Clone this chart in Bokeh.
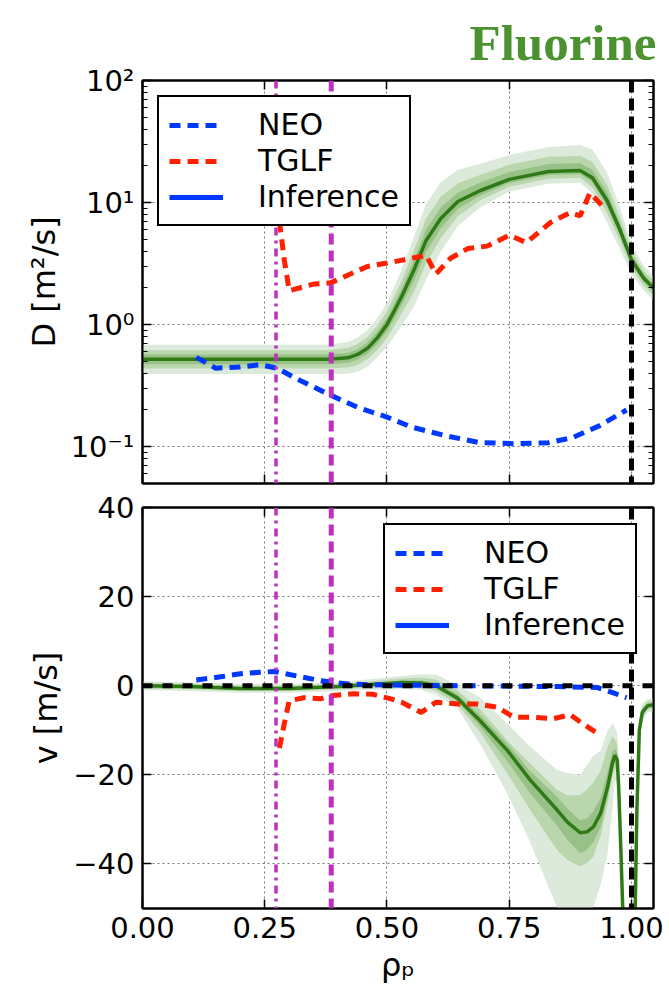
from bokeh.plotting import figure
from bokeh.models import (Range1d, FixedTicker, LinearAxis, LogAxis, Span, Legend, LegendItem,
                          NumeralTickFormatter)
from bokeh.layouts import column
from bokeh.embed import file_html
from bokeh.resources import INLINE

# ---------------- data ----------------
title_text = "Fluorine"
series_names = ["NEO", "TGLF", "Inference"]

# top panel: D [m^2/s]
rho_D_inf = [0.0, 0.1, 0.2, 0.3, 0.38, 0.42, 0.44, 0.46, 0.48, 0.5, 0.515, 0.53, 0.555, 0.58,
             0.61, 0.645, 0.69, 0.75, 0.83, 0.895, 0.92, 0.95, 0.977, 1.0, 1.025, 1.045]
D_inf = [0.52, 0.52, 0.52, 0.52, 0.52, 0.535, 0.57, 0.64, 0.78, 1.0, 1.3, 1.7, 2.8, 4.9,
         7.4, 10.2, 12.5, 15.5, 18.0, 18.3, 16.0, 10.4, 5.9, 3.4, 2.4, 2.0]
# band half-widths in decades (outer / middle / inner, up and down)
D_out_up = [0.12, 0.12, 0.12, 0.12, 0.12, 0.13, 0.14, 0.15, 0.16, 0.18, 0.20, 0.22, 0.27, 0.30,
            0.30, 0.26, 0.22, 0.20, 0.20, 0.21, 0.23, 0.23, 0.18, 0.13, 0.10, 0.10]
D_out_dn = [0.12, 0.12, 0.12, 0.12, 0.12, 0.13, 0.14, 0.15, 0.16, 0.18, 0.21, 0.24, 0.30, 0.32,
            0.27, 0.20, 0.14, 0.10, 0.10, 0.10, 0.13, 0.18, 0.16, 0.12, 0.10, 0.10]
D_mid_up = [0.075, 0.075, 0.075, 0.075, 0.075, 0.08, 0.085, 0.09, 0.10, 0.11, 0.12, 0.13, 0.16,
            0.18, 0.18, 0.15, 0.13, 0.12, 0.12, 0.12, 0.13, 0.13, 0.10, 0.08, 0.06, 0.06]
D_mid_dn = [0.075, 0.075, 0.075, 0.075, 0.075, 0.08, 0.085, 0.09, 0.10, 0.11, 0.125, 0.14, 0.18,
            0.19, 0.16, 0.12, 0.08, 0.06, 0.06, 0.06, 0.08, 0.10, 0.09, 0.07, 0.06, 0.06]
D_in_up = [0.04, 0.04, 0.04, 0.04, 0.04, 0.04, 0.042, 0.045, 0.05, 0.055, 0.06, 0.065, 0.08,
           0.09, 0.09, 0.075, 0.065, 0.06, 0.06, 0.06, 0.065, 0.065, 0.05, 0.04, 0.03, 0.03]
D_in_dn = [0.04, 0.04, 0.04, 0.04, 0.04, 0.04, 0.042, 0.045, 0.05, 0.055, 0.062, 0.07, 0.09,
           0.095, 0.08, 0.06, 0.04, 0.03, 0.03, 0.03, 0.04, 0.05, 0.045, 0.035, 0.03, 0.03]

rho_D_neo = [0.11, 0.15, 0.2, 0.24, 0.275, 0.315, 0.38, 0.44, 0.5, 0.55, 0.62, 0.69, 0.76,
             0.83, 0.88, 0.935, 0.99]
D_neo = [0.54, 0.44, 0.45, 0.47, 0.44, 0.36, 0.27, 0.21, 0.175, 0.145, 0.123, 0.108, 0.106,
         0.108, 0.119, 0.149, 0.2]

rho_D_tglf = [0.28, 0.29, 0.30, 0.35, 0.385, 0.425, 0.46, 0.50, 0.535, 0.58, 0.60, 0.63, 0.665,
              0.705, 0.75, 0.785, 0.835, 0.875, 0.895, 0.915, 0.945]
D_tglf = [7.0, 3.4, 1.9, 2.15, 2.2, 2.6, 3.0, 3.2, 3.4, 3.7, 2.6, 3.5, 4.2,
          4.4, 5.4, 4.7, 6.9, 8.3, 7.8, 12.0, 9.0]

# bottom panel: v [m/s]
rho_v_inf = [0.0, 0.1, 0.2, 0.3, 0.4, 0.47, 0.53, 0.57, 0.6, 0.643, 0.69, 0.746, 0.793, 0.848,
             0.869, 0.895, 0.909, 0.922, 0.937, 0.951, 0.961, 0.966, 0.971, 0.974, 0.978, 0.985,
             0.995, 1.006, 1.011, 1.016, 1.022, 1.033, 1.045]
v_inf = [0.0, -0.2, -0.6, -0.6, -0.2, 0.3, 0.7, 0.6, 0.0, -2.7, -7.8, -14.5, -21.2, -27.9,
         -30.6, -33.0, -32.8, -31.7, -28.6, -22.8, -17.4, -15.6, -16.7, -23.4, -36.0, -60.0,
         -90.0, -60.0, -28.0, -10.0, -6.0, -4.5, -4.3]
v_out_up = [1, 1, 1, 1, 1, 1.2, 1.5, 2, 2.5, 3, 5.2, 6, 7.5, 9, 11, 13, 15, 16, 14, 12.7, 9, 6.3,
            6, 6, 5, 4, 4, 4, 3, 2.5, 2, 1.5, 1.5]
v_out_dn = [1, 1, 1, 1, 1, 1.2, 1.5, 1.5, 2, 2.2, 5.2, 9.7, 14, 22, 24, 25, 22, 18, 16, 15, 10, 5.6,
            5, 5, 5, 4, 4, 4, 3, 2.5, 2, 1.5, 1.5]
v_mid_up = [0.6, 0.6, 0.6, 0.6, 0.6, 0.7, 0.9, 1.2, 1.4, 1.7, 2.6, 2.2, 3.7, 4.5, 6, 8.4, 9.5, 10,
            9.5, 9, 6, 3.5, 3.5, 3.5, 3, 2.5, 2.5, 2.5, 2, 1.5, 1.2, 0.9, 0.9]
v_mid_dn = [0.6, 0.6, 0.6, 0.6, 0.6, 0.7, 0.9, 0.9, 1.2, 1.4, 2.6, 5.2, 6.7, 9, 8.5, 7.6, 7, 6.7,
            5, 3.7, 3, 3, 3, 3, 3, 2.5, 2.5, 2.5, 2, 1.5, 1.2, 0.9, 0.9]
v_in_up = [0.3, 0.3, 0.3, 0.3, 0.3, 0.35, 0.45, 0.6, 0.7, 0.85, 1.3, 1.5, 2, 3, 3, 2.8, 3, 3.5,
           3.5, 3.5, 2.5, 1.5, 1.5, 1.5, 1.5, 1.2, 1.2, 1.2, 1, 0.8, 0.6, 0.5, 0.5]
v_in_dn = [0.3, 0.3, 0.3, 0.3, 0.3, 0.35, 0.45, 0.45, 0.6, 0.7, 1.3, 2.5, 3, 3.5, 4, 4.6, 4, 3.5,
           3, 2, 1.5, 1.5, 1.5, 1.5, 1.5, 1.2, 1.2, 1.2, 1, 0.8, 0.6, 0.5, 0.5]

rho_v_neo = [0.11, 0.16, 0.2, 0.24, 0.27, 0.315, 0.365, 0.42, 0.47, 0.55, 0.65, 0.75, 0.85,
             0.93, 0.96, 0.99]
v_neo = [1.3, 2.0, 2.7, 3.0, 3.2, 2.2, 1.1, 0.4, 0.2, 0.1, 0.0, -0.1, -0.2, -0.4, -1.5, -2.7]

rho_v_tglf = [0.28, 0.29, 0.30, 0.33, 0.365, 0.39, 0.43, 0.47, 0.51, 0.53, 0.57, 0.60, 0.645,
              0.685, 0.725, 0.76, 0.80, 0.84, 0.875, 0.90, 0.935]
v_tglf = [-14.0, -8.5, -3.4, -2.7, -2.9, -2.2, -1.8, -1.9, -3.0, -3.7, -6.0, -3.7, -4.1,
          -4.1, -4.8, -7.1, -7.1, -7.4, -6.5, -8.5, -11.0]

# vertical markers (rho_p)
rho_dashdot = 0.273
rho_dashed = 0.386
rho_lcfs = 1.0

x_ticks = [0.0, 0.25, 0.5, 0.75, 1.0]
D_ticks = [0.1, 1, 10, 100]
D_tick_labels = ["10⁻¹", "10⁰", "10¹", "10²"]
D_minor = [0.06, 0.07, 0.08, 0.09, 0.2, 0.3, 0.4, 0.5, 0.6, 0.7, 0.8, 0.9,
           2, 3, 4, 5, 6, 7, 8, 9, 20, 30, 40, 50, 60, 70, 80, 90]
v_ticks = [-40, -20, 0, 20, 40]
v_tick_labels = ["−40", "−20", "0", "20", "40"]

# ---------------- styles ----------------
FONT = "DejaVu Sans"
TICK_FS = "29px"
C_NEO = "#0038ff"
C_TGLF = "#ff2000"
C_INF = "#2e7b16"
C_MAG = "#bf30bf"
BAND_COLORS = ["#dceadb", "#bad6ad", "#98c187"]
W = 669
LEFT, RIGHT = 142, 16
X_MAX = 1.045


def style_axis(ax):
    ax.axis_line_color = "black"
    ax.axis_line_width = 2
    ax.major_tick_in = 9
    ax.major_tick_out = 0
    ax.minor_tick_in = 5
    ax.minor_tick_out = 0
    ax.major_tick_line_width = 1.5
    ax.major_tick_line_color = "black"
    ax.minor_tick_line_color = "black"
    ax.major_label_text_font = FONT
    ax.major_label_text_font_size = TICK_FS
    ax.major_label_text_color = "black"
    ax.major_label_standoff = 8
    ax.axis_label_text_font = FONT
    ax.axis_label_text_font_size = "32px"
    ax.axis_label_text_font_style = "normal"
    ax.axis_label_text_color = "black"


def hide_labels(ax):
    ax.major_label_text_font_size = "1px"
    ax.major_label_text_color = None
    ax.major_label_standoff = 0


def style(p, yticks, yminor, ylabels, show_x_labels, log):
    p.outline_line_color = "black"
    p.outline_line_width = 2
    p.xgrid.ticker = FixedTicker(ticks=x_ticks)
    p.ygrid.ticker = FixedTicker(ticks=yticks)
    for g in (p.xgrid[0], p.ygrid[0]):
        g.grid_line_color = "#777777"
        g.grid_line_dash = "2 3"
        g.grid_line_width = 1
    bx = p.below[0]
    ly = p.left[0]
    bx.ticker = FixedTicker(ticks=x_ticks)
    ly.ticker = FixedTicker(ticks=yticks, minor_ticks=yminor)
    ly.major_label_overrides = {t: l for t, l in zip(yticks, ylabels)}
    extra_x = LinearAxis(ticker=FixedTicker(ticks=x_ticks))
    extra_y = (LogAxis if log else LinearAxis)(ticker=FixedTicker(ticks=yticks, minor_ticks=yminor))
    p.add_layout(extra_x, "above")
    p.add_layout(extra_y, "right")
    for ax in (bx, ly, extra_x, extra_y):
        style_axis(ax)
    hide_labels(extra_x)
    hide_labels(extra_y)
    if not show_x_labels:
        hide_labels(bx)
    else:
        bx.formatter = NumeralTickFormatter(format="0.00")
    return bx, ly


def bands(p, x, c, ups, dns, log):
    for col, up, dn in zip(BAND_COLORS, ups, dns):
        if log:
            lo = [ci * 10 ** (-d) for ci, d in zip(c, dn)]
            hi = [ci * 10 ** (u) for ci, u in zip(c, up)]
        else:
            lo = [ci - d for ci, d in zip(c, dn)]
            hi = [ci + u for ci, u in zip(c, up)]
        p.varea(x=x, y1=lo, y2=hi, fill_color=col, fill_alpha=1.0)


def add_legend(p, r_neo, r_tglf, r_inf_proxy, loc, margin):
    legend = Legend(items=[LegendItem(label=series_names[0], renderers=[r_neo]),
                           LegendItem(label=series_names[1], renderers=[r_tglf]),
                           LegendItem(label=series_names[2], renderers=[r_inf_proxy])],
                    location=loc, margin=margin, padding=10, spacing=1,
                    glyph_width=54, glyph_height=34, label_height=34, label_standoff=35,
                    label_text_font=FONT, label_text_font_size="30px", label_text_color="black",
                    border_line_color="black", border_line_width=2, border_line_alpha=1.0,
                    background_fill_color="white", background_fill_alpha=1.0)
    p.add_layout(legend, "center")


def vlines(p):
    p.add_layout(Span(location=rho_dashdot, dimension="height", line_color=C_MAG,
                      line_width=3.5, line_dash="8 5 3 5"))
    p.add_layout(Span(location=rho_dashed, dimension="height", line_color=C_MAG,
                      line_width=5, line_dash="11 6"))
    p.add_layout(Span(location=rho_lcfs, dimension="height", line_color="black",
                      line_width=5, line_dash="12 6"))


# ---------------- top panel ----------------
p1 = figure(width=W, height=486, y_axis_type="log", output_backend="svg", toolbar_location=None,
            x_range=Range1d(0, X_MAX), y_range=Range1d(0.05, 100),
            min_border_left=LEFT, min_border_right=RIGHT, min_border_top=80, min_border_bottom=3,
            title=title_text)
p1.title.align = "right"
p1.title.vertical_align = "top"
p1.title.text_font = "Liberation Serif"
p1.title.text_font_size = "51px"
p1.title.text_font_style = "bold"
p1.title.text_color = "#4b9231"
p1.title.standoff = 16
p1.title.offset = -3
bx1, ly1 = style(p1, D_ticks, D_minor, D_tick_labels, False, True)
ly1.axis_label = "D [m²/s]"
bands(p1, rho_D_inf, D_inf, [D_out_up, D_mid_up, D_in_up], [D_out_dn, D_mid_dn, D_in_dn], True)
r1i = p1.line(rho_D_inf, D_inf, line_color=C_INF, line_width=3.5)
r1n = p1.line(rho_D_neo, D_neo, line_color=C_NEO, line_width=5, line_dash="11 7")
r1t = p1.line(rho_D_tglf, D_tglf, line_color=C_TGLF, line_width=5, line_dash="11 7")
vlines(p1)
p1_proxy = p1.line(rho_D_inf[:2], [1e-4, 1e-4], line_color=C_NEO, line_width=5)
add_legend(p1, r1n, r1t, p1_proxy, "top_left", 15)

# ---------------- bottom panel ----------------
p2 = figure(width=W, height=501, output_backend="svg", toolbar_location=None,
            x_range=p1.x_range, y_range=Range1d(-50, 40),
            min_border_left=LEFT, min_border_right=RIGHT, min_border_top=21, min_border_bottom=79)
bx2, ly2 = style(p2, v_ticks, [], v_tick_labels, True, False)
ly2.axis_label = "v [m/s]"
bx2.axis_label = "ρₚ"
bands(p2, rho_v_inf, v_inf, [v_out_up, v_mid_up, v_in_up], [v_out_dn, v_mid_dn, v_in_dn], False)
r2i = p2.line(rho_v_inf, v_inf, line_color=C_INF, line_width=3.5)
r2n = p2.line(rho_v_neo, v_neo, line_color=C_NEO, line_width=5, line_dash="11 7")
r2t = p2.line(rho_v_tglf, v_tglf, line_color=C_TGLF, line_width=5, line_dash="11 7")
vlines(p2)
p2.add_layout(Span(location=0, dimension="width", line_color="black", line_width=5,
                   line_dash="10 10"))
p2_proxy = p2.line(rho_v_inf[:2], [-500, -500], line_color=C_NEO, line_width=5)
add_legend(p2, r2n, r2t, p2_proxy, "top_right", 16)

layout = column(p1, p2, spacing=0)
open("out.html", "w").write(file_html(layout, INLINE))
